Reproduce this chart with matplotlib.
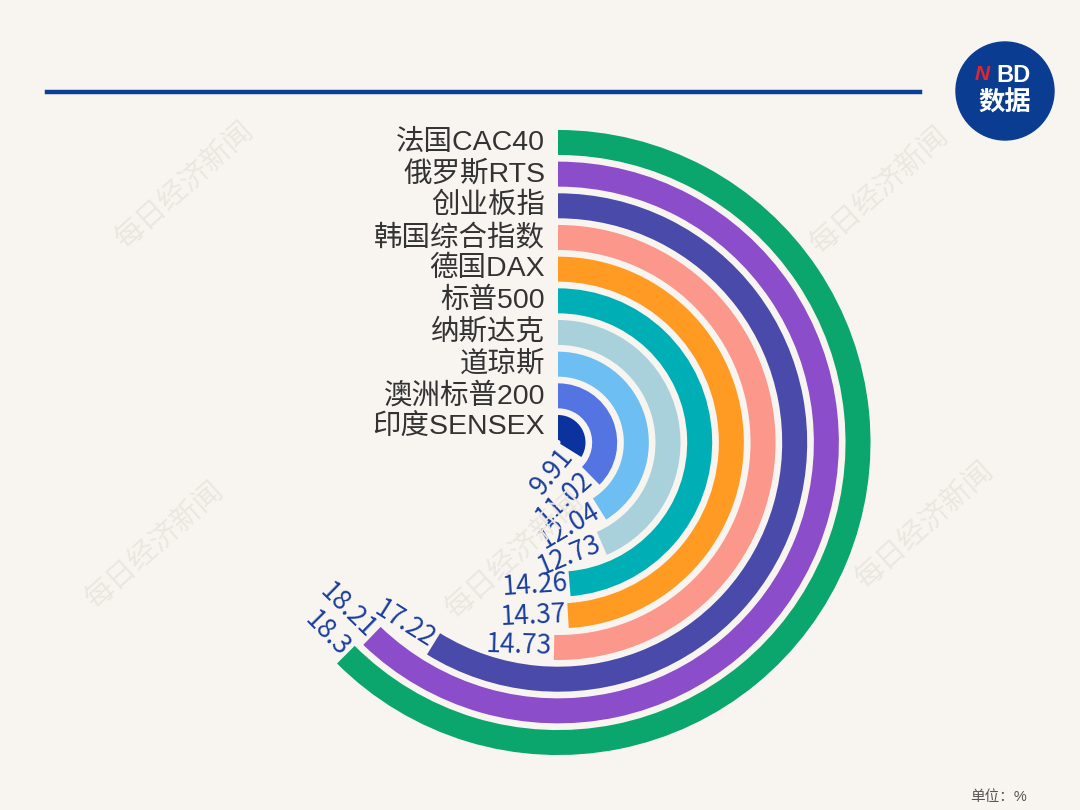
import numpy as np
import matplotlib.pyplot as plt
from matplotlib.transforms import ScaledTranslation
from matplotlib.patches import Circle
from matplotlib.lines import Line2D

plt.rcParams['font.family'] = ['Liberation Sans', 'Noto Sans CJK SC', 'DejaVu Sans']

# data, innermost ring first
names = ['印度SENSEX', '澳洲标普200', '道琼斯', '纳斯达克', '标普500',
         '德国DAX', '韩国综合指数', '创业板指', '俄罗斯RTS', '法国CAC40']
values = [9.91, 11.02, 12.04, 12.73, 14.26, 14.37, 14.73, 17.22, 18.21, 18.3]
value_text = ['9.91', '11.02', '12.04', '12.73', '14.26',
              '14.37', '14.73', '17.22', '18.21', '18.3']
colors = ['#0a33a0', '#5474e2', '#6dbef3', '#a9d1dc', '#00aeb5',
          '#ff9b22', '#fc978c', '#4a4aaa', '#8b4dc9', '#0ba66e']

bg = '#f8f5f0'
navy = '#0e3f97'
full_turn = 29.28   # value that would close the circle

fig = plt.figure(figsize=(10.8, 8.1), dpi=100)
fig.patch.set_facecolor(bg)

# polar axes sized so one radial unit = one pixel
R = 330
cx, cy = 558, 810 - 442.5
ax = fig.add_axes([(cx - R) / 1080, (cy - R) / 810, 2 * R / 1080, 2 * R / 810],
                  projection='polar')
ax.set_theta_zero_location('N')
ax.set_theta_direction(-1)
ax.set_ylim(0, R)
ax.axis('off')

ring_w = 25
pitch = 31.67
first_outer = 27.5
bottoms = np.array([first_outer - ring_w + i * pitch for i in range(len(values))])
mids = bottoms + ring_w / 2
theta = np.array(values) / full_turn * 2 * np.pi

ax.bar(np.zeros(len(values)), ring_w, width=theta, bottom=bottoms,
       align='edge', color=colors, linewidth=0)

# value labels, tangent to the ring just past the bar end
for i in range(len(values)):
    ang = theta[i] + 2.0 / mids[i]
    rot = 180 - np.degrees(ang)
    ax.text(ang, mids[i] - 1, value_text[i], rotation=rot, rotation_mode='anchor',
            ha='right', va='center', fontsize=19, color='#1a3e9e',
            family=['Noto Sans CJK SC'])

# category labels at the start of each ring
shift = ax.transData + ScaledTranslation(-13 / 100, 0, fig.dpi_scale_trans)
for i in range(len(values)):
    ax.text(0, mids[i], names[i], transform=shift, ha='right', va='center',
            fontsize=20.5, color='#333333')

# header rule
fig.add_artist(Line2D([47 / 1080, 920 / 1080], [1 - 92 / 810, 1 - 92 / 810],
                      color=navy, lw=3.2))

# logo
lg = fig.add_axes([955 / 1080, (810 - 141) / 810, 100 / 1080, 100 / 810])
lg.set_xlim(0, 100)
lg.set_ylim(0, 100)
lg.axis('off')
lg.add_patch(Circle((50, 50), 49, color='#0a3d91'))
lg.text(27, 66, 'N', color='#e8242b', fontsize=15, fontweight='bold',
        style='italic', ha='center', va='center')
lg.text(58, 66, 'BD', color='white', fontsize=17, fontweight='bold',
        ha='center', va='center')
lg.text(50, 38, '数据', color='white', fontsize=19, fontweight='bold',
        ha='center', va='center')

# watermarks
for x, y in [(185, 185), (880, 190), (155, 545), (515, 555), (925, 525)]:
    fig.text(x / 1080, 1 - y / 810, '每日经济新闻', rotation=42, fontsize=21,
             color='#ebe7e0', ha='center', va='center', zorder=0)

fig.text(1027 / 1080, 1 - 797 / 810, '单位：%', ha='right', va='center',
         fontsize=10.5, color='#555555')

fig.savefig('out.png', dpi=100, facecolor=bg)
